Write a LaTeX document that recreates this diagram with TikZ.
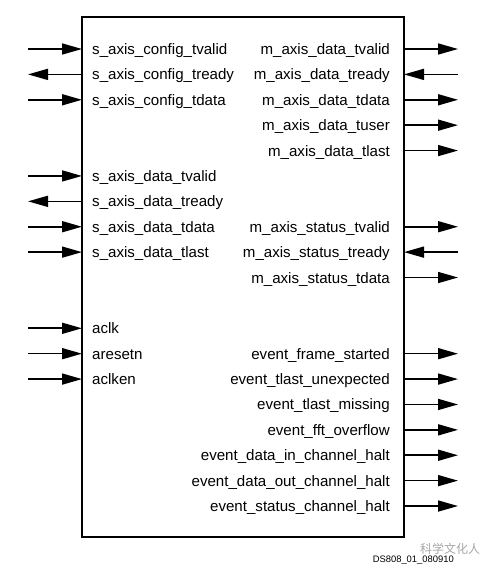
\documentclass[tikz,border=0pt]{standalone}
\usepackage{fontspec}
\setmainfont{Liberation Sans}
\newfontfamily\cjk{Noto Sans CJK SC}
\usetikzlibrary{arrows.meta}
\begin{document}
\begin{tikzpicture}[x=1pt,y=-1pt,
  sig/.style={font=\fontsize{15.1}{18}\selectfont, inner sep=0pt},
  wire/.style={line width=1.6pt},
  tipped/.style={-{Triangle[length=20pt,width=11pt]}}]
\useasboundingbox (0,0) rectangle (496,573);
\node[draw, line width=1.6pt, minimum width=322pt, minimum height=520pt, inner sep=0pt, outer sep=0pt] (blk) at (243,277) {};
% left inputs
\foreach \r/\t in {1/s\_axis\_config\_tvalid, 3/s\_axis\_config\_tdata, 6/s\_axis\_data\_tvalid, 8/s\_axis\_data\_tdata, 9/s\_axis\_data\_tlast, 12/aclk, 13/aresetn, 14/aclken} {
  \pgfmathsetmacro\yy{49+(\r-1)*25.39}
  \node[sig, anchor=base west] (l\r) at (92,\yy+5.5) {\t};
  \coordinate (lb\r) at (82,\yy);
  \coordinate (lo\r) at (28,\yy);
  \draw[wire,tipped] (lo\r) -- (lb\r);
}
% left outputs
\foreach \r/\t in {2/s\_axis\_config\_tready, 7/s\_axis\_data\_tready} {
  \pgfmathsetmacro\yy{49+(\r-1)*25.39}
  \node[sig, anchor=base west] (l\r) at (92,\yy+5.5) {\t};
  \coordinate (lb\r) at (82,\yy);
  \coordinate (lo\r) at (28,\yy);
  \draw[wire,tipped] (lb\r) -- (lo\r);
}
% right outputs
\foreach \r/\t in {1/m\_axis\_data\_tvalid, 3/m\_axis\_data\_tdata, 4/m\_axis\_data\_tuser, 5/m\_axis\_data\_tlast, 8/m\_axis\_status\_tvalid, 10/m\_axis\_status\_tdata, 13/event\_frame\_started, 14/event\_tlast\_unexpected, 15/event\_tlast\_missing, 16/event\_fft\_overflow, 17/event\_data\_in\_channel\_halt, 18/event\_data\_out\_channel\_halt, 19/event\_status\_channel\_halt} {
  \pgfmathsetmacro\yy{49+(\r-1)*25.39}
  \node[sig, anchor=base east] (r\r) at (390,\yy+5.5) {\t};
  \coordinate (rb\r) at (404,\yy);
  \coordinate (ro\r) at (458,\yy);
  \draw[wire,tipped] (rb\r) -- (ro\r);
}
% right inputs
\foreach \r/\t in {2/m\_axis\_data\_tready, 9/m\_axis\_status\_tready} {
  \pgfmathsetmacro\yy{49+(\r-1)*25.39}
  \node[sig, anchor=base east] (r\r) at (390,\yy+5.5) {\t};
  \coordinate (rb\r) at (404,\yy);
  \coordinate (ro\r) at (458,\yy);
  \draw[wire,tipped] (ro\r) -- (rb\r);
}
\node[inner sep=0pt, anchor=center, text=black!35, font=\cjk\fontsize{12}{14}\selectfont] (wm) at (450,549) {科学文化人};
\node[inner sep=0pt, anchor=base east, font=\fontsize{9.4}{11}\selectfont] (fig) at (454,562) {DS808\_01\_080910};
\end{tikzpicture}
\end{document}
